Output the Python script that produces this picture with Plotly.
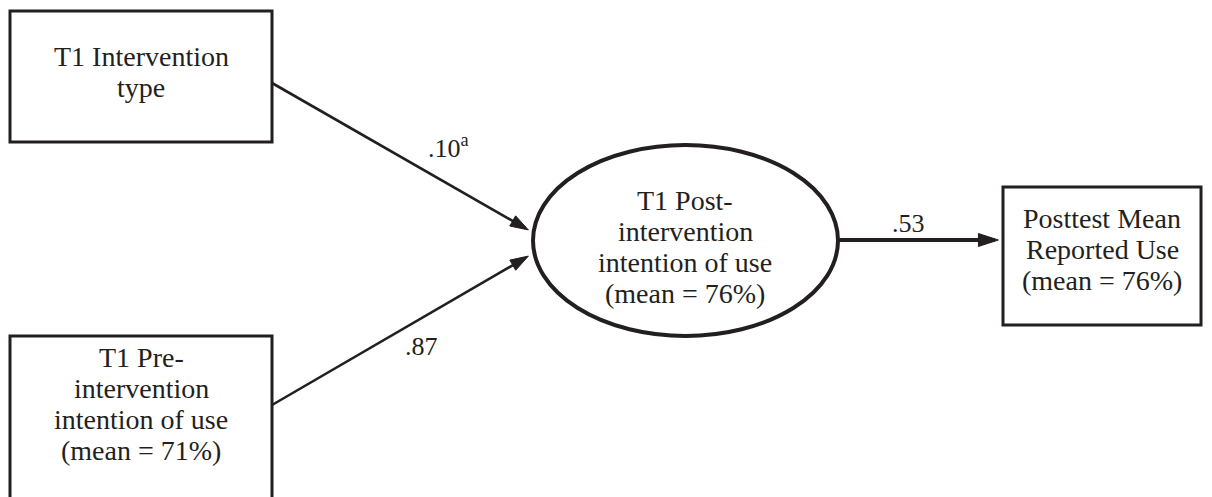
import math
import plotly.graph_objects as go

# ---- data ----
node_labels = [
    ["T1 Intervention", "type"],
    ["T1 Pre-", "intervention", "intention of use", "(mean = 71%)"],
    ["T1 Post-", "intervention", "intention of use", "(mean = 76%)"],
    ["Posttest Mean", "Reported Use", "(mean = 76%)"],
]
path_coefficients = [".10<sup>a</sup>", ".87", ".53"]

# ---- layout geometry (pixel space of the 1212x497 window) ----
W, H = 1212, 497
OFF = 8  # default page body margin
INK = "#231f20"
FONT = "Liberation Serif, Times New Roman, serif"
FS = 28
LINE = 31

fig = go.Figure()

# boxes: (x0, y0, x1, y1)
boxes = [(10, 11, 272, 142), (10, 336, 272, 520), (1003, 187, 1201, 325)]
for x0, y0, x1, y1 in boxes:
    fig.add_shape(type="rect", x0=x0, y0=y0, x1=x1, y1=y1,
                  line=dict(color=INK, width=3), fillcolor="white", layer="below")
# ellipse
fig.add_shape(type="circle", x0=533, y0=145, x1=838, y1=336,
              line=dict(color=INK, width=4), fillcolor="white", layer="below")

# node texts (centre of the text block)
text_pos = [(141, 72), (141, 404), (685, 247), (1102, 249)]
for lines, (x, y) in zip(node_labels, text_pos):
    n = len(lines)
    for i, ln in enumerate(lines):
        fig.add_annotation(x=x, y=y + (i - (n - 1) / 2) * LINE, text=ln, showarrow=False,
                           font=dict(family=FONT, size=FS, color=INK), align="center")

# arrows: (tail_x, tail_y, head_x, head_y, width, head size)
arrows = [(272, 83, 532, 232, 2.6, 19), (272, 405, 532, 254, 2.6, 19), (838, 240, 1003, 240, 4, 21)]
for tx, ty, hx, hy, w, s in arrows:
    d = math.hypot(hx - tx, hy - ty)
    ux, uy = (hx - tx) / d, (hy - ty) / d
    fig.add_trace(go.Scatter(x=[tx, hx - ux * s * 0.4], y=[ty, hy - uy * s * 0.4], mode="lines",
                             line=dict(color=INK, width=w), hoverinfo="skip", showlegend=False))
    fig.add_trace(go.Scatter(x=[tx, hx - ux * s * 0.22], y=[ty, hy - uy * s * 0.22], mode="markers",
                             marker=dict(symbol="arrow", size=[0, s], angleref="previous",
                                         color=INK, opacity=1, line=dict(width=1, color=INK)),
                             hoverinfo="skip", showlegend=False))

# coefficient labels
coef_pos = [(448, 146), (421, 346), (908, 223)]
for lab, (x, y) in zip(path_coefficients, coef_pos):
    fig.add_annotation(x=x, y=y, text=lab, showarrow=False,
                       font=dict(family=FONT, size=FS - 2, color=INK))

fig.update_layout(
    width=W - OFF, height=H - OFF, margin=dict(l=0, r=0, t=0, b=0),
    plot_bgcolor="white", paper_bgcolor="white",
    xaxis=dict(range=[OFF, W], visible=False, fixedrange=True),
    yaxis=dict(range=[H, OFF], visible=False, fixedrange=True),
    showlegend=False,
)
fig.write_html("out.html", config={"displayModeBar": False})
